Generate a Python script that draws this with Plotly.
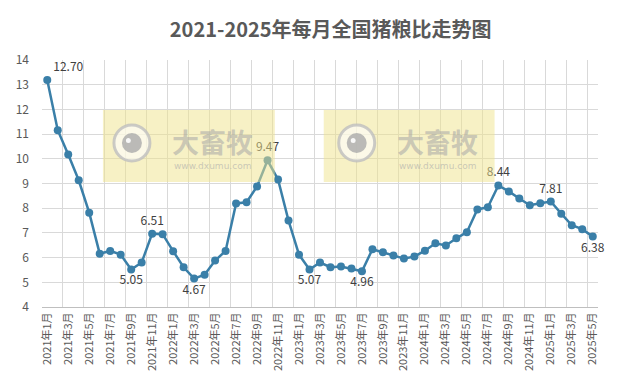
import plotly.graph_objects as go

months = [f"{y}年{m}月" for y in range(2021, 2026) for m in range(1, 13)][:53]

ratio = [13.19, 11.16, 10.17, 9.13, 7.82, 6.16, 6.27, 6.12, 5.52, 5.80,
         6.97, 6.95, 6.26, 5.61, 5.15, 5.31, 5.88, 6.27, 8.19, 8.24,
         8.88, 9.94, 9.16, 7.50, 6.12, 5.52, 5.80, 5.61, 5.64, 5.56,
         5.45, 6.34, 6.22, 6.08, 5.96, 6.04, 6.28, 6.58, 6.49, 6.78,
         7.03, 7.95, 8.04, 8.92, 8.68, 8.39, 8.12, 8.20, 8.27, 7.78,
         7.31, 7.15, 6.85]

label_text = {0: "12.70", 8: "5.05", 10: "6.51", 14: "4.67", 21: "9.47",
              25: "5.07", 30: "4.96", 43: "8.44", 48: "7.81", 52: "6.38"}
label_pos = {0: "top right", 8: "bottom center", 10: "top center", 14: "bottom center",
             21: "top center", 25: "bottom center", 30: "bottom center",
             43: "top center", 48: "top center", 52: "bottom center"}

idx = list(range(len(ratio)))
texts = [label_text.get(i, "") for i in idx]
positions = [label_pos.get(i, "top center") for i in idx]

tick_idx = idx[::2]
tick_txt = [months[i] for i in tick_idx]

FONT = "Noto Sans CJK SC"
LINE = "#3a7fa8"

fig = go.Figure()
fig.add_trace(go.Scatter(
    x=idx, y=ratio, mode="lines+markers+text",
    line=dict(color=LINE, width=2.5),
    marker=dict(color=LINE, size=8),
    text=texts, textposition=positions,
    textfont=dict(family=FONT, size=12, color="#404040"),
    cliponaxis=False, showlegend=False, xaxis="x",
))
# invisible trace for the grid axis
fig.add_trace(go.Scatter(x=[idx[0]], y=[ratio[0]], mode="markers",
                         marker=dict(opacity=0), showlegend=False,
                         hoverinfo="skip", xaxis="x2"))

xr = [-0.5, len(ratio) - 0.5]
fig.update_layout(
    width=624, height=388,
    margin=dict(l=42, r=25.5, t=60, b=81),
    paper_bgcolor="white", plot_bgcolor="white",
    title=dict(text="<b>2021-2025年每月全国猪粮比走势图</b>", x=0.53, xanchor="center",
               y=0.922, yanchor="middle",
               font=dict(family=FONT, size=20, color="#595959")),
    xaxis=dict(range=xr, tickmode="array", tickvals=tick_idx, ticktext=tick_txt,
               tickangle=-90, showgrid=False, zeroline=False,
               showline=True, linecolor="#bfbfbf", linewidth=1, ticks="",
               tickfont=dict(family=FONT, size=11, color="#595959")),
    xaxis2=dict(range=xr, overlaying="x", tick0=-0.5, dtick=2, showgrid=True,
                gridcolor="#d9d9d9", gridwidth=1, showticklabels=False,
                zeroline=False, ticks=""),
    yaxis=dict(range=[4, 14], dtick=1, showgrid=True, gridcolor="#d9d9d9",
               zeroline=False, ticks="", ticklabelstandoff=12,
               tickfont=dict(family=FONT, size=12, color="#595959")),
)

# watermark boxes (decoration, paper coords)
def px2x(px):
    return (px - 42) / 556.5

def py2y(py):
    return (307 - py) / 247

for (bx0, bx1, cx) in [(103, 275, 132), (324, 495, 357)]:
    fig.add_shape(type="rect", xref="paper", yref="paper",
                  x0=px2x(bx0), x1=px2x(bx1), y0=py2y(182), y1=py2y(110),
                  fillcolor="rgba(240,228,140,0.5)", line=dict(width=0), layer="above")
    fig.add_shape(type="circle", xref="paper", yref="paper",
                  x0=px2x(cx - 18), x1=px2x(cx + 18), y0=py2y(161), y1=py2y(125),
                  fillcolor="rgba(255,255,255,0.6)", line=dict(color="rgba(190,190,190,0.8)", width=3),
                  layer="above")
    fig.add_shape(type="circle", xref="paper", yref="paper",
                  x0=px2x(cx - 10), x1=px2x(cx + 10), y0=py2y(153), y1=py2y(133),
                  fillcolor="rgba(170,170,170,0.8)", line=dict(width=0), layer="above")
    fig.add_shape(type="circle", xref="paper", yref="paper",
                  x0=px2x(cx - 6), x1=px2x(cx - 1), y0=py2y(143), y1=py2y(138),
                  fillcolor="rgba(255,255,255,0.9)", line=dict(width=0), layer="above")
    tx = cx + 81
    fig.add_annotation(x=px2x(tx), y=py2y(141), xref="paper", yref="paper",
                       xanchor="center", yanchor="middle",
                       text="<b>大畜牧</b>", showarrow=False,
                       font=dict(family=FONT, size=27, color="rgba(165,165,165,0.55)"))
    fig.add_annotation(x=px2x(tx), y=py2y(166), xref="paper", yref="paper",
                       xanchor="center", yanchor="middle",
                       text="www.dxumu.com", showarrow=False,
                       font=dict(family="DejaVu Sans", size=9, color="rgba(170,170,170,0.6)"))

fig.write_html("out.html")
